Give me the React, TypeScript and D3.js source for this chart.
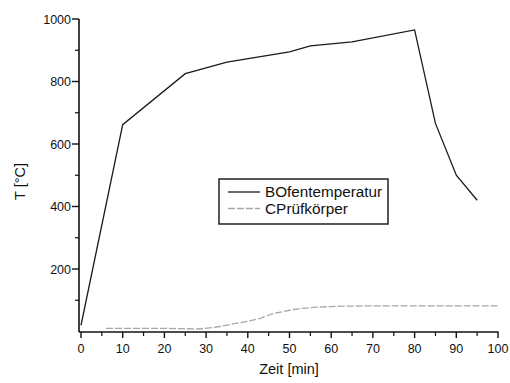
import React from "react";
import * as d3 from "d3";

const ofenTime = [0, 10, 25, 35, 50, 55, 65, 80, 85, 90, 95];
const ofenTemp = [20, 662, 825, 862, 895, 914, 927, 965, 666, 500, 420];

const probeTime = [6, 10, 15, 20, 25, 28, 32, 36, 40, 43, 46, 50, 53, 57, 62, 70, 78, 85, 90, 95, 100];
const probeTemp = [10, 10, 10, 10, 9, 8, 13, 23, 33, 42, 57, 68, 74, 78, 81, 82, 82, 82, 82, 82, 82];

const xMajor = [0, 10, 20, 30, 40, 50, 60, 70, 80, 90, 100];
const yMajor = [200, 400, 600, 800, 1000];
const seriesNames = ["BOfentemperatur", "CPrüfkörper"];

export default function App() {
  const x = d3.scaleLinear().domain([0, 100]).range([81, 498]);
  const y = d3.scaleLinear().domain([0, 1000]).range([331.5, 19]);
  const axisX = 79;
  const axisY = 332;
  const font = "'Liberation Sans', Arial, sans-serif";

  const line = d3
    .line<[number, number]>()
    .x((d) => x(d[0]))
    .y((d) => y(d[1]));

  const ofen = ofenTime.map((t, i) => [t, ofenTemp[i]] as [number, number]);
  const probe = probeTime.map((t, i) => [t, probeTemp[i]] as [number, number]);

  const xMinor = d3.range(5, 100, 10);
  const yMinor = d3.range(100, 1000, 200);

  return (
    <svg
      width={510}
      height={383}
      style={{ position: "absolute", left: 0, top: 0, background: "#fff" }}
      fontFamily={font}
    >
      <rect x={0} y={0} width={510} height={383} fill="#fff" />
      {/* axes */}
      <line x1={axisX} x2={axisX} y1={19} y2={axisY} stroke="#111" strokeWidth={1.6} />
      <line x1={axisX} x2={498.5} y1={axisY} y2={axisY} stroke="#111" strokeWidth={1.6} />
      {xMajor.map((v) => (
        <g key={"xt" + v}>
          <line x1={x(v)} x2={x(v)} y1={axisY} y2={axisY + 6} stroke="#111" strokeWidth={1.4} />
          <text x={x(v)} y={353} fontSize={12.5} textAnchor="middle" fill="#111">
            {v}
          </text>
        </g>
      ))}
      {xMinor.map((v) => (
        <line key={"xm" + v} x1={x(v)} x2={x(v)} y1={axisY} y2={axisY + 4} stroke="#111" strokeWidth={1.2} />
      ))}
      {yMajor.map((v) => (
        <g key={"yt" + v}>
          <line x1={axisX - 7} x2={axisX} y1={y(v)} y2={y(v)} stroke="#111" strokeWidth={1.4} />
          <text x={71} y={y(v) + 4.5} fontSize={12.5} textAnchor="end" fill="#111">
            {v}
          </text>
        </g>
      ))}
      {yMinor.map((v) => (
        <line key={"ym" + v} x1={axisX - 4} x2={axisX} y1={y(v)} y2={y(v)} stroke="#111" strokeWidth={1.2} />
      ))}
      {/* axis titles */}
      <text x={289} y={374} fontSize={14.5} textAnchor="middle" fill="#111">
        Zeit [min]
      </text>
      <text
        transform="translate(25,181.5) rotate(-90)"
        fontSize={14.5}
        textAnchor="middle"
        fill="#111"
      >
        T [°C]
      </text>
      {/* data */}
      <path d={line(probe) || ""} fill="none" stroke="#a8a8a8" strokeWidth={1.3} strokeDasharray="7 2" />
      <path d={line(ofen) || ""} fill="none" stroke="#1a1a1a" strokeWidth={1.3} />
      {/* legend */}
      <rect x={219} y={179} width={169} height={45} fill="#fff" stroke="#111" strokeWidth={1.4} />
      <line x1={228} x2={260} y1={192} y2={192} stroke="#1a1a1a" strokeWidth={1.3} />
      <line x1={228} x2={260} y1={208.5} y2={208.5} stroke="#a8a8a8" strokeWidth={1.3} strokeDasharray="7 2" />
      <text x={265} y={197} fontSize={14} fill="#111" textLength={117} lengthAdjust="spacingAndGlyphs">
        {seriesNames[0]}
      </text>
      <text x={265} y={213.5} fontSize={14} fill="#111" textLength={83} lengthAdjust="spacingAndGlyphs">
        {seriesNames[1]}
      </text>
    </svg>
  );
}
